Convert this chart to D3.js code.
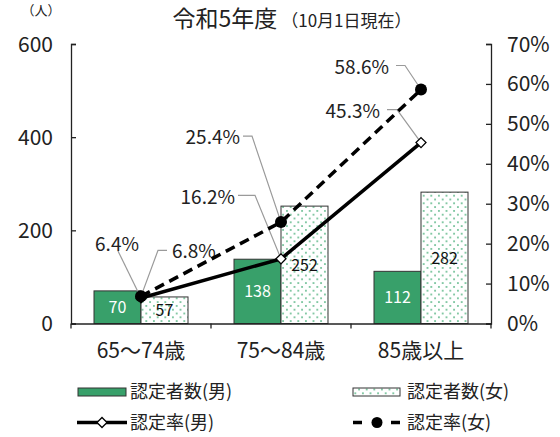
<!DOCTYPE html>
<html><head><meta charset="utf-8">
<script src="https://cdn.jsdelivr.net/npm/d3@7"></script>
<style>
body{margin:0;background:#fff;}
text{font-family:"Noto Sans CJK JP","Noto Sans",sans-serif;fill:#222;}
</style></head>
<body><svg id="c" width="560" height="437"></svg>
<script>
const categories = ["65～74歳","75～84歳","85歳以上"];
const maleCount = [70,138,112];
const femaleCount = [57,252,282];
const maleRate = [6.4,16.2,45.3];
const femaleRate = [6.8,25.4,58.6];
const leftTicks = [0,200,400,600];
const rightTicks = [0,10,20,30,40,50,60,70];
const title = "令和5年度";
const subtitle = "（10月1日現在）";
const unitLabel = "（人）";
const legendNames = ["認定者数(男)","認定者数(女)","認定率(男)","認定率(女)"];

// layout for rate-label callouts (relative to point): text dx,dy,anchor; leader path
const maleLabelLayout = [
  {dx:-24,dy:-54,anchor:"middle",path:[[-23,-47],[0,0]]},
  {dx:-46,dy:-62,anchor:"end",path:[[-43,-63.5],[-26,-63.5],[0,0]]},
  {dx:-41,dy:-31,anchor:"end",path:[[-34,-33],[-24,-33],[0,0]]}
];
const femaleLabelLayout = [
  {dx:31,dy:-45,anchor:"start",path:[[26,-46],[17,-46],[0,0]]},
  {dx:-41,dy:-85,anchor:"end",path:[[-38,-86],[-29,-86],[0,0]]},
  {dx:-32,dy:-22,anchor:"end",path:[[-25,-24],[-16,-24],[0,0]]}
];

const green = "#38a06a";
const svg = d3.select("#c");
const defs = svg.append("defs");
const pat = defs.append("pattern").attr("id","dots").attr("patternUnits","userSpaceOnUse")
  .attr("width",7.6).attr("height",7.6);
pat.append("rect").attr("width",7.6).attr("height",7.6).attr("fill","#fff");
pat.append("circle").attr("cx",1.9).attr("cy",1.9).attr("r",0.9).attr("fill","#4cb07c");
pat.append("circle").attr("cx",5.7).attr("cy",5.7).attr("r",0.9).attr("fill","#4cb07c");

const L=71,R=491,T=44,B=323.5;
const x = d3.scaleBand().domain(categories).range([L,R]).padding(0);
const xs = d3.scaleBand().domain(["m","f"]).range([23,117]).padding(0);
const y = d3.scaleLinear().domain([0,600]).range([B,T]);
const yr = d3.scaleLinear().domain([0,70]).range([B,T]);

// axes
const axL = svg.append("g").attr("transform",`translate(${L},0)`)
  .call(d3.axisRight(y).tickValues(leftTicks).tickSize(5).tickFormat(""));
axL.select(".domain").attr("stroke","#222").attr("stroke-width",1.3);
axL.selectAll(".tick line").attr("stroke","#222").attr("stroke-width",1.3);
svg.append("g").selectAll("text").data(leftTicks).join("text")
  .attr("x",53).attr("y",d=>y(d)).attr("dy","0.36em").attr("text-anchor","end")
  .style("font-size","21px").text(d=>d);

const axR = svg.append("g").attr("transform",`translate(${R},0)`)
  .call(d3.axisLeft(yr).tickValues(rightTicks).tickSize(5).tickFormat(""));
axR.select(".domain").attr("stroke","#222").attr("stroke-width",1.3);
axR.selectAll(".tick line").attr("stroke","#222").attr("stroke-width",1.3);
svg.append("g").selectAll("text").data(rightTicks).join("text")
  .attr("x",507).attr("y",d=>yr(d)).attr("dy","0.36em").attr("text-anchor","start")
  .style("font-size","21px").text(d=>d+"%");

// bars
const g = svg.append("g");
categories.forEach((c,i)=>{
  const x0 = x(c);
  g.append("rect").attr("x",x0+xs("m")).attr("y",y(maleCount[i])).attr("width",xs.bandwidth())
    .attr("height",B-y(maleCount[i])).attr("fill",green).attr("stroke","#333").attr("stroke-width",1);
  g.append("rect").attr("x",x0+xs("f")).attr("y",y(femaleCount[i])).attr("width",xs.bandwidth())
    .attr("height",B-y(femaleCount[i])).attr("fill","url(#dots)").attr("stroke","#333").attr("stroke-width",1);
  g.append("text").attr("x",x0+xs("m")+xs.bandwidth()/2).attr("y",(y(maleCount[i])+B)/2)
    .attr("dy","0.36em").attr("text-anchor","middle").style("font-size","16px").style("fill","#fff")
    .text(maleCount[i]);
  g.append("text").attr("x",x0+xs("f")+xs.bandwidth()/2).attr("y",(y(femaleCount[i])+B)/2)
    .attr("dy","0.36em").attr("text-anchor","middle").style("font-size","16px").style("fill","#111")
    .text(femaleCount[i]);
});

// x axis
const axB = svg.append("g").attr("transform",`translate(0,${B})`)
  .call(d3.axisBottom(x).tickSize(0).tickFormat(""));
axB.select(".domain").attr("stroke","#222").attr("stroke-width",1.3);
svg.append("g").selectAll("line").data([L,...categories.map(c=>x(c)+x.bandwidth())]).join("line")
  .attr("x1",d=>d).attr("x2",d=>d).attr("y1",B).attr("y2",B+5).attr("stroke","#222").attr("stroke-width",1.3);
svg.append("g").selectAll("text").data(categories).join("text")
  .attr("x",d=>x(d)+x.bandwidth()/2).attr("y",350).attr("dy","0.36em").attr("text-anchor","middle")
  .style("font-size","21px").text(d=>d);

// lines
const px = c=>x(c)+x.bandwidth()/2;
const lineM = d3.line().x((d,i)=>px(categories[i])).y(d=>yr(d));
function callouts(vals,layout){
  vals.forEach((v,i)=>{
    const cx=px(categories[i]), cy=yr(v), lay=layout[i];
    svg.append("path").attr("d",d3.line()(lay.path.map(p=>[cx+p[0],cy+p[1]])))
      .attr("fill","none").attr("stroke","#9a9a9a").attr("stroke-width",1.2);
    svg.append("text").attr("x",cx+lay.dx).attr("y",cy+lay.dy).attr("dy","0.36em")
      .attr("text-anchor",lay.anchor).style("font-size","19px").text(v.toFixed(1)+"%");
  });
}
callouts(maleRate,maleLabelLayout);
callouts(femaleRate,femaleLabelLayout);

svg.append("path").attr("d",lineM(maleRate)).attr("fill","none").attr("stroke","#000").attr("stroke-width",3.5);
svg.append("path").attr("d",lineM(femaleRate)).attr("fill","none").attr("stroke","#000").attr("stroke-width",3.5)
  .attr("stroke-dasharray","10,6");
svg.append("g").selectAll("path").data(maleRate).join("path")
  .attr("transform",(d,i)=>`translate(${px(categories[i])},${yr(d)}) rotate(45)`)
  .attr("d",d3.symbol().type(d3.symbolSquare).size(50)).attr("fill","#fff").attr("stroke","#000").attr("stroke-width",1.3);
svg.append("g").selectAll("circle").data(femaleRate).join("circle")
  .attr("cx",(d,i)=>px(categories[i])).attr("cy",d=>yr(d)).attr("r",6).attr("fill","#000");

// title
const tt = svg.append("text").attr("x",292).attr("y",27).attr("text-anchor","middle");
tt.append("tspan").style("font-size","23px").text(title);
tt.append("tspan").style("font-size","17px").attr("dx",4).text(subtitle);
svg.append("text").attr("x",41).attr("y",15).attr("text-anchor","middle").style("font-size","13px").text(unitLabel);

// legend
const lg = svg.append("g");
lg.append("rect").attr("x",78).attr("y",388).attr("width",48).attr("height",8).attr("fill",green).attr("stroke","#333");
lg.append("rect").attr("x",353).attr("y",388).attr("width",47).attr("height",8).attr("fill","url(#dots)").attr("stroke","#333");
lg.append("line").attr("x1",77).attr("x2",127).attr("y1",422.5).attr("y2",422.5).attr("stroke","#000").attr("stroke-width",3.5);
lg.append("path").attr("transform","translate(102,422.5) rotate(45)").attr("d",d3.symbol().type(d3.symbolSquare).size(50))
  .attr("fill","#fff").attr("stroke","#000").attr("stroke-width",1.3);
lg.append("line").attr("x1",353).attr("x2",400).attr("y1",422.5).attr("y2",422.5).attr("stroke","#000").attr("stroke-width",3.5)
  .attr("stroke-dasharray","9,29,9");
lg.append("circle").attr("cx",377).attr("cy",422.5).attr("r",5.5).attr("fill","#000");
[[130,392],[407,392],[130,422.5],[407,422.5]].forEach((p,i)=>{
  lg.append("text").attr("x",p[0]).attr("y",p[1]).attr("dy","0.36em").style("font-size","18px").text(legendNames[i]);
});
</script></body></html>
